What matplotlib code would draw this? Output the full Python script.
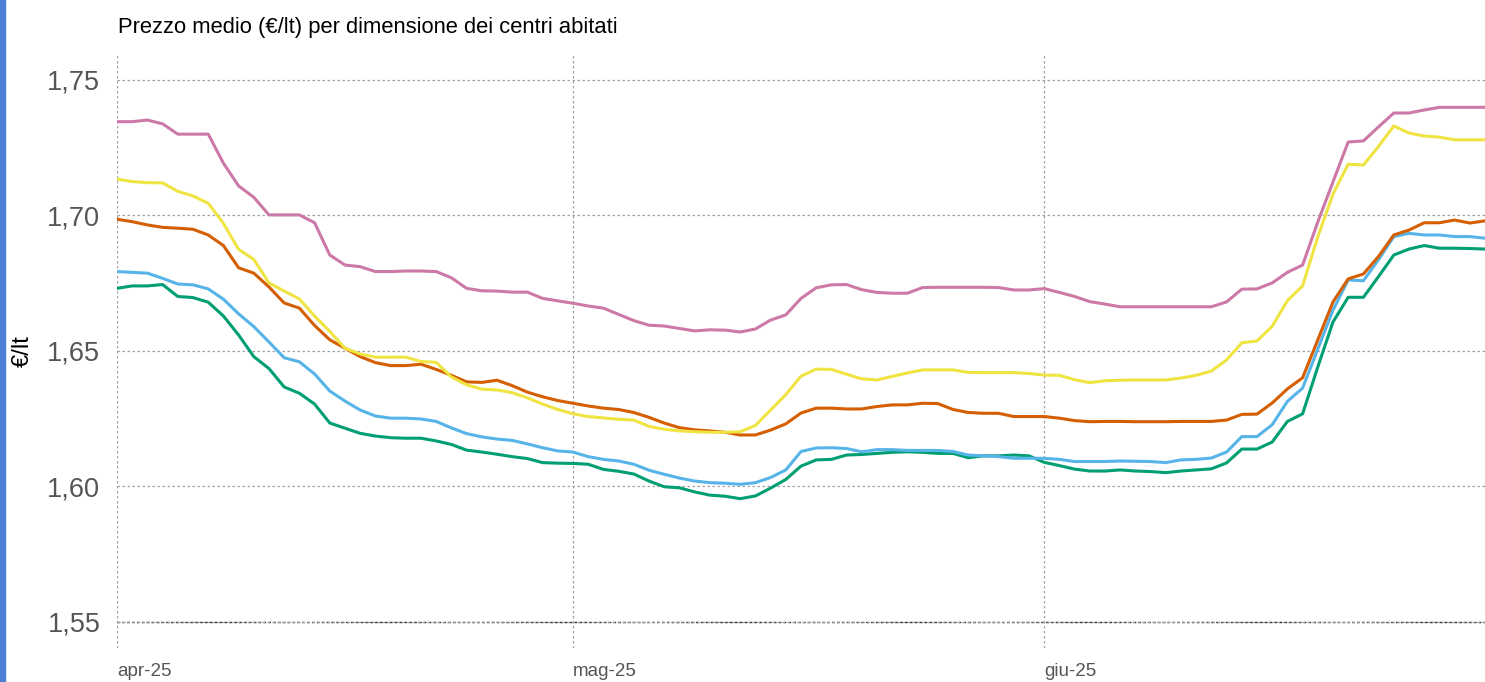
import pandas as pd
import matplotlib.pyplot as plt
from matplotlib.patches import Rectangle

# giorni: 1 aprile -> 30 giugno 2025
giorni = pd.date_range('2025-04-01', '2025-06-30', freq='D')

serie_rosa = [1.7346, 1.7346, 1.7352, 1.7338, 1.7300, 1.7300, 1.7300, 1.7193, 1.7109, 1.7067,
              1.7002, 1.7002, 1.7002, 1.6973, 1.6854, 1.6817, 1.6811, 1.6793, 1.6793, 1.6795,
              1.6795, 1.6793, 1.6770, 1.6731, 1.6722, 1.6721, 1.6717, 1.6717, 1.6694, 1.6685,
              1.6676, 1.6666, 1.6658, 1.6635, 1.6612, 1.6595, 1.6592, 1.6583, 1.6574, 1.6578,
              1.6577, 1.6570, 1.6581, 1.6614, 1.6633, 1.6694, 1.6733, 1.6744, 1.6745, 1.6726,
              1.6716, 1.6713, 1.6713, 1.6734, 1.6735, 1.6735, 1.6735, 1.6735, 1.6734, 1.6725,
              1.6725, 1.6730, 1.6716, 1.6701, 1.6682, 1.6673, 1.6663, 1.6663, 1.6663, 1.6663,
              1.6663, 1.6663, 1.6663, 1.6681, 1.6728, 1.6729, 1.6751, 1.6790, 1.6817, 1.6976,
              1.7124, 1.7271, 1.7275, 1.7327, 1.7378, 1.7378, 1.7389, 1.7399, 1.7399, 1.7399,
              1.7399]

serie_gialla = [1.7134, 1.7125, 1.7121, 1.7120, 1.7089, 1.7072, 1.7045, 1.6971, 1.6875, 1.6838,
                1.6751, 1.6721, 1.6692, 1.6629, 1.6572, 1.6510, 1.6489, 1.6477, 1.6477, 1.6477,
                1.6461, 1.6458, 1.6404, 1.6375, 1.6359, 1.6356, 1.6346, 1.6327, 1.6304, 1.6284,
                1.6268, 1.6258, 1.6253, 1.6248, 1.6245, 1.6222, 1.6211, 1.6205, 1.6202, 1.6200,
                1.6200, 1.6202, 1.6225, 1.6282, 1.6339, 1.6407, 1.6433, 1.6432, 1.6414, 1.6397,
                1.6393, 1.6406, 1.6419, 1.6430, 1.6430, 1.6430, 1.6421, 1.6420, 1.6420, 1.6420,
                1.6417, 1.6411, 1.6410, 1.6394, 1.6383, 1.6390, 1.6392, 1.6393, 1.6393, 1.6393,
                1.6400, 1.6410, 1.6426, 1.6467, 1.6530, 1.6537, 1.6591, 1.6686, 1.6740, 1.6921,
                1.7079, 1.7189, 1.7186, 1.7255, 1.7330, 1.7304, 1.7293, 1.7289, 1.7279, 1.7279,
                1.7279]

serie_arancio = [1.6986, 1.6977, 1.6965, 1.6956, 1.6953, 1.6949, 1.6928, 1.6889, 1.6807, 1.6787,
                 1.6736, 1.6677, 1.6658, 1.6594, 1.6541, 1.6510, 1.6479, 1.6457, 1.6446, 1.6446,
                 1.6451, 1.6432, 1.6410, 1.6386, 1.6384, 1.6392, 1.6372, 1.6348, 1.6331, 1.6317,
                 1.6307, 1.6297, 1.6289, 1.6284, 1.6273, 1.6255, 1.6234, 1.6217, 1.6209, 1.6205,
                 1.6200, 1.6190, 1.6190, 1.6208, 1.6231, 1.6271, 1.6289, 1.6289, 1.6286, 1.6286,
                 1.6295, 1.6301, 1.6301, 1.6307, 1.6306, 1.6284, 1.6273, 1.6270, 1.6270, 1.6258,
                 1.6258, 1.6258, 1.6252, 1.6243, 1.6239, 1.6240, 1.6240, 1.6239, 1.6239, 1.6239,
                 1.6240, 1.6240, 1.6240, 1.6245, 1.6266, 1.6267, 1.6308, 1.6360, 1.6401, 1.6541,
                 1.6681, 1.6766, 1.6784, 1.6849, 1.6928, 1.6946, 1.6973, 1.6973, 1.6983, 1.6972,
                 1.6980]

serie_azzurra = [1.6793, 1.6790, 1.6787, 1.6768, 1.6747, 1.6744, 1.6729, 1.6691, 1.6637, 1.6590,
                 1.6533, 1.6475, 1.6460, 1.6415, 1.6352, 1.6315, 1.6282, 1.6260, 1.6252, 1.6252,
                 1.6249, 1.6240, 1.6216, 1.6195, 1.6183, 1.6175, 1.6170, 1.6157, 1.6143, 1.6131,
                 1.6127, 1.6110, 1.6100, 1.6094, 1.6082, 1.6060, 1.6045, 1.6031, 1.6020, 1.6014,
                 1.6012, 1.6008, 1.6014, 1.6033, 1.6061, 1.6129, 1.6142, 1.6143, 1.6140, 1.6128,
                 1.6136, 1.6136, 1.6133, 1.6133, 1.6133, 1.6129, 1.6116, 1.6113, 1.6110, 1.6104,
                 1.6104, 1.6104, 1.6100, 1.6092, 1.6092, 1.6092, 1.6094, 1.6093, 1.6092, 1.6088,
                 1.6098, 1.6100, 1.6105, 1.6127, 1.6184, 1.6184, 1.6228, 1.6314, 1.6363, 1.6507,
                 1.6651, 1.6762, 1.6759, 1.6837, 1.6922, 1.6934, 1.6928, 1.6928, 1.6922, 1.6922,
                 1.6916]

serie_verde = [1.6731, 1.6740, 1.6740, 1.6745, 1.6701, 1.6697, 1.6680, 1.6629, 1.6559, 1.6479,
               1.6435, 1.6367, 1.6344, 1.6304, 1.6234, 1.6215, 1.6196, 1.6186, 1.6180, 1.6178,
               1.6178, 1.6168, 1.6155, 1.6134, 1.6127, 1.6119, 1.6110, 1.6103, 1.6088, 1.6086,
               1.6085, 1.6082, 1.6063, 1.6056, 1.6046, 1.6020, 1.5999, 1.5995, 1.5980, 1.5968,
               1.5964, 1.5955, 1.5965, 1.5994, 1.6026, 1.6075, 1.6098, 1.6100, 1.6116, 1.6118,
               1.6122, 1.6126, 1.6128, 1.6126, 1.6122, 1.6122, 1.6106, 1.6113, 1.6113, 1.6116,
               1.6113, 1.6089, 1.6077, 1.6064, 1.6057, 1.6057, 1.6061, 1.6057, 1.6055, 1.6051,
               1.6057, 1.6061, 1.6065, 1.6087, 1.6138, 1.6138, 1.6164, 1.6240, 1.6268, 1.6441,
               1.6607, 1.6698, 1.6698, 1.6775, 1.6854, 1.6876, 1.6889, 1.6879, 1.6879, 1.6878,
               1.6876]

y_ticks = [1.55, 1.60, 1.65, 1.70, 1.75]
mesi = ['2025-04-01', '2025-05-01', '2025-06-01']
mesi_label = ['apr-25', 'mag-25', 'giu-25']

plt.rcParams['font.family'] = ['Liberation Sans', 'DejaVu Sans']

fig = plt.figure(figsize=(14.85, 6.82), dpi=100)
ax = fig.add_axes([117/1485, 1 - 648/682, 1 - 117/1485, (648 - 55)/682])

# ordine di disegno: dal basso verso l'alto
ax.plot(giorni, serie_verde, color='#009E73', lw=2.2)
ax.plot(giorni, serie_azzurra, color='#56B4E9', lw=2.2)
ax.plot(giorni, serie_arancio, color='#D55E00', lw=2.2)
ax.plot(giorni, serie_gialla, color='#F0E442', lw=2.2)
ax.plot(giorni, serie_rosa, color='#CC79A7', lw=2.2)

ax.set_xlim(pd.Timestamp('2025-04-01'), pd.Timestamp('2025-06-30'))
ax.set_ylim(1.5404, 1.7592)

ax.set_yticks(y_ticks)
ax.set_yticklabels([f'{v:.2f}'.replace('.', ',') for v in y_ticks])
ax.set_xticks(pd.to_datetime(mesi))
ax.set_xticklabels(mesi_label)

for t in ax.get_xticklabels():
    t.set_horizontalalignment('left')
ax.tick_params(axis='x', length=0, pad=11, labelsize=13.5, labelcolor='#555555')
ax.tick_params(axis='y', length=0, pad=12, labelsize=19.5, labelcolor='#555555')

for s in ax.spines.values():
    s.set_visible(False)

ax.grid(True, ls=(0, (2, 2)), color='#a0a0a0', lw=0.9)
ax.axhline(1.55, ls=(0, (2, 1.5)), color='#333333', lw=1.0, zorder=0.5)

ax.set_ylabel('€/lt', fontsize=17, color='black', labelpad=10)
fig.text(118/1485, 1 - 27/682, 'Prezzo medio (€/lt) per dimensione dei centri abitati',
         fontsize=15.8, color='black', ha='left', va='center')

# bordo blu a sinistra
fig.patches.append(Rectangle((0, 0), 5/1485, 1, transform=fig.transFigure,
                             color='#4a7fd6', zorder=10))

plt.savefig('out.png', dpi=100)
plt.close()
